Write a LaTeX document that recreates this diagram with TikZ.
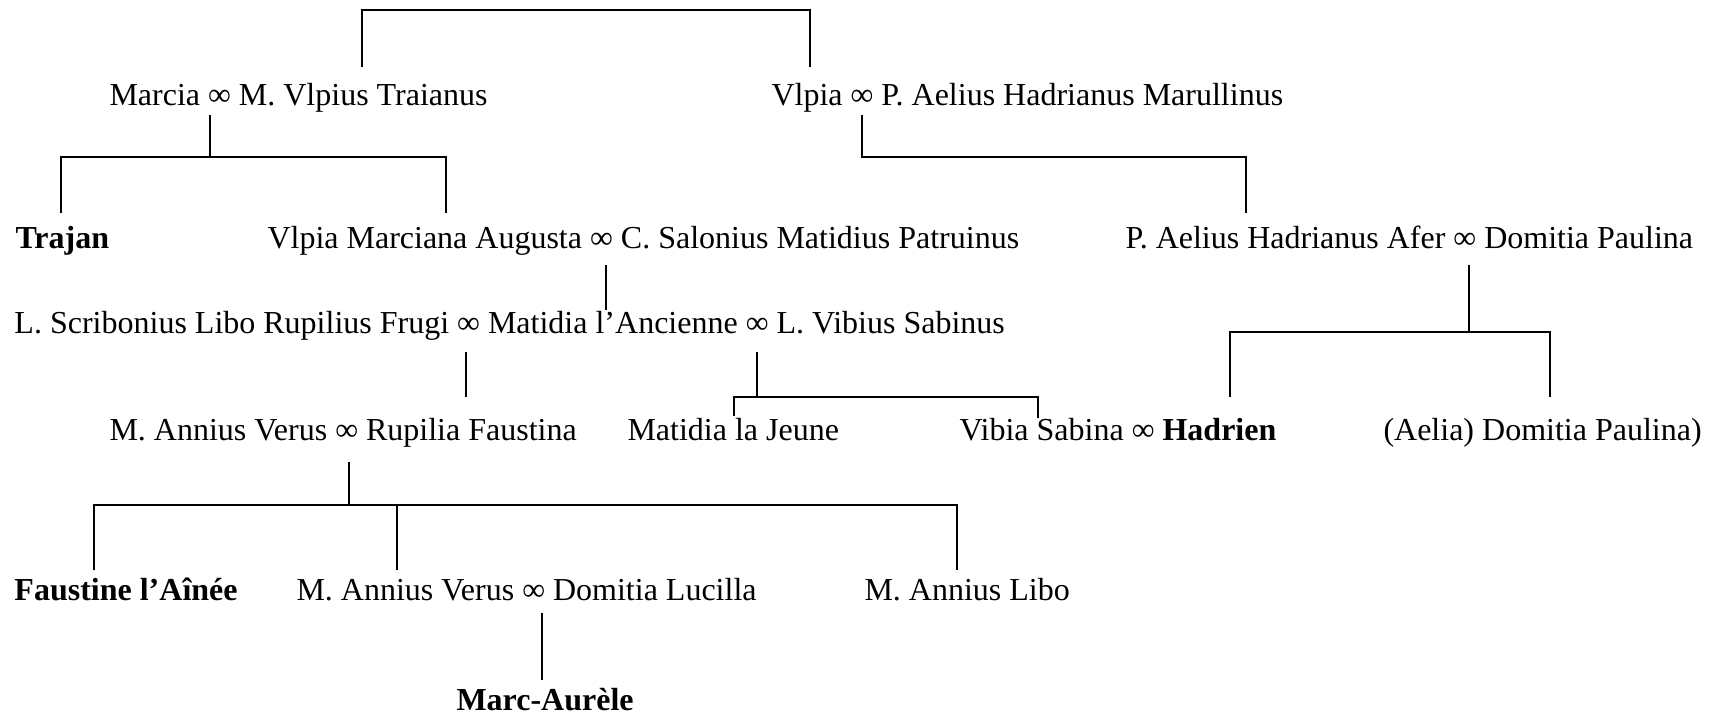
\documentclass[tikz,border=0pt]{standalone}
\usepackage{fontspec}
\setmainfont{Liberation Serif}
\usetikzlibrary{calc}

\begin{document}
\begin{tikzpicture}[x=0.4pt, y=-0.4pt,
    person/.style={anchor=base west, inner sep=0pt, font=\fontsize{12.8}{15}\selectfont},
    heir/.style={person, font=\fontsize{12.8}{15}\selectfont\bfseries},
    line/.style={line width=0.7pt}
  ]
    \useasboundingbox (0,0) rectangle (1717,716);

    % generation 1
    \node[person] (marcia) at (109,105) {Marcia ∞ M. Vlpius Traianus};
    \node[person] (vlpia) at (771,105) {Vlpia ∞ P. Aelius Hadrianus Marullinus};
    % generation 2
    \node[heir] (trajan) at (15,248) {Trajan};
    \node[person] (marciana) at (267,248) {Vlpia Marciana Augusta ∞ C. Salonius Matidius Patruinus};
    \node[person] (afer) at (1125,248) {P. Aelius Hadrianus Afer ∞ Domitia Paulina};
    % generation 3
    \node[person] (matidia) at (14,333) {L. Scribonius Libo Rupilius Frugi ∞ Matidia l’Ancienne ∞ L. Vibius Sabinus};
    % generation 4
    \node[person] (verus) at (109,440) {M. Annius Verus ∞ Rupilia Faustina};
    \node[person] (jeune) at (627,440) {Matidia la Jeune};
    \node[person] (sabina) at (959,440) {Vibia Sabina ∞ \textbf{Hadrien}};
    \node[person] (paulina) at (1383,440) {(Aelia) Domitia Paulina)};
    % generation 5
    \node[heir] (faustine) at (14,600) {Faustine l’Aînée};
    \node[person] (verus2) at (296,600) {M. Annius Verus ∞ Domitia Lucilla};
    \node[person] (libo) at (864,600) {M. Annius Libo};
    % generation 6
    \node[heir] (marc) at (456,710) {Marc-Aurèle};

    % siblings
    \draw[line] ($(marcia.base west)+(253,-38)$) |- ($(vlpia.base west)+(39,-95)$) -- ++(0,57);
    % children of Marcia
    \draw[line] ($(marcia.base west)+(101,10)$) -- ++(0,42);
    \draw[line] ($(trajan.base west)+(46,-35)$) |- ($(marciana.base west)+(179,-91)$) -- ++(0,56);
    % children of Vlpia
    \draw[line] ($(vlpia.base west)+(91,10)$) |- ($(afer.base west)+(121,-91)$) -- ++(0,56);
    % Matidia
    \draw[line] ($(marciana.base west)+(339,17)$) -- ($(matidia.base west)+(592,-23)$);
    % children of Afer
    \draw[line] ($(afer.base west)+(344,17)$) -- ++(0,67);
    \draw[line] ($(sabina.base west)+(271,-43)$) |- ($(paulina.base west)+(167,-108)$) -- ++(0,65);
    % children of Matidia
    \draw[line] ($(matidia.base west)+(452,19)$) -- ($(verus.base west)+(357,-43)$);
    \draw[line] ($(matidia.base west)+(743,19)$) -- ++(0,45);
    \draw[line] ($(jeune.base west)+(107,-24)$) |- ($(sabina.base west)+(79,-43)$) -- ++(0,21);
    % children of Verus
    \draw[line] ($(verus.base west)+(240,22)$) -- ++(0,43);
    \draw[line] ($(faustine.base west)+(80,-30)$) |- ($(libo.base west)+(93,-95)$) -- ++(0,65);
    \draw[line] ($(verus2.base west)+(101,-30)$) -- ++(0,-65);
    % Marc-Aurele
    \draw[line] ($(verus2.base west)+(246,13)$) -- ($(marc.base west)+(86,-30)$);
\end{tikzpicture}
\end{document}
